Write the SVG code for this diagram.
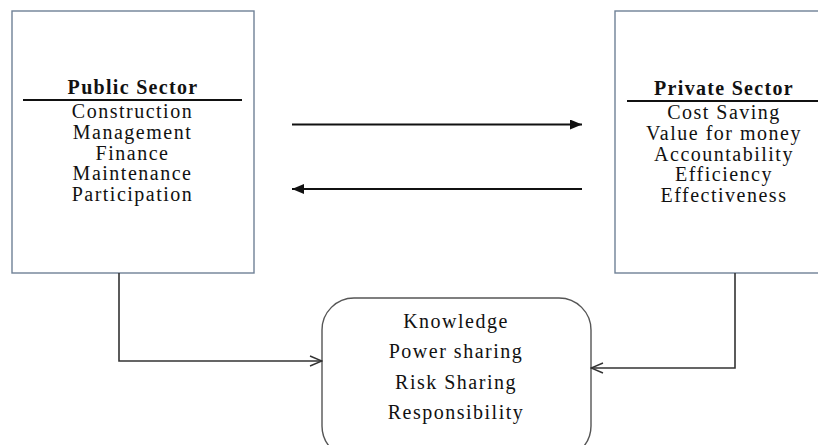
<svg xmlns="http://www.w3.org/2000/svg" width="818" height="445" viewBox="0 0 818 445">
<defs>
<style>
.box{fill:#fff;stroke:#6f8196;stroke-width:1.4}
.rbox{fill:#fff;stroke:#555;stroke-width:1.4}
.t{font-family:"Liberation Serif","Times New Roman",serif;font-size:20px;fill:#111;text-anchor:middle;letter-spacing:1.5px}
.h{font-weight:bold;letter-spacing:1.3px}
.rule{stroke:#111;stroke-width:2}
.c{fill:none;stroke:#333;stroke-width:1.6}
.a{fill:none;stroke:#111;stroke-width:2.2}
</style>
<marker id="fa" viewBox="0 0 12 10" refX="12" refY="5" markerWidth="12" markerHeight="10" markerUnits="userSpaceOnUse" orient="auto">
<path d="M0,0 L12,5 L0,10 Z" fill="#111"/>
</marker>
<marker id="oa" viewBox="0 0 14 12" refX="13" refY="6" markerWidth="14" markerHeight="12" markerUnits="userSpaceOnUse" orient="auto">
<path d="M1,1 L13,6 L1,11" fill="none" stroke="#333" stroke-width="1.4"/>
</marker>
</defs>
<rect width="818" height="445" fill="#fff"/>
<g id="public">
<rect class="box" x="12" y="11" width="242" height="262"/>
<text class="t h" x="133" y="94">Public Sector</text>
<line class="rule" x1="23" y1="100" x2="242" y2="100"/>
<text class="t" x="132.5" y="118">Construction</text>
<text class="t" x="132.5" y="139">Management</text>
<text class="t" x="132.5" y="160">Finance</text>
<text class="t" x="132.5" y="180">Maintenance</text>
<text class="t" x="132.5" y="201">Participation</text>
</g>
<g id="private">
<rect class="box" x="615" y="11" width="220" height="262"/>
<text class="t h" x="724" y="95">Private Sector</text>
<line class="rule" x1="627" y1="101" x2="818" y2="101"/>
<text class="t" x="724" y="119">Cost Saving</text>
<text class="t" x="724" y="140">Value for money</text>
<text class="t" x="724" y="161">Accountability</text>
<text class="t" x="724" y="181">Efficiency</text>
<text class="t" x="724" y="202">Effectiveness</text>
</g>
<g id="shared">
<rect class="rbox" x="322" y="298" width="269" height="160" rx="32" ry="32"/>
<text class="t" x="456" y="328">Knowledge</text>
<text class="t" x="456" y="358">Power sharing</text>
<text class="t" x="456" y="389">Risk Sharing</text>
<text class="t" x="456" y="419">Responsibility</text>
</g>
<g id="connectors">
<line class="a" x1="292" y1="124.5" x2="582" y2="124.5" marker-end="url(#fa)"/>
<line class="a" x1="582" y1="189" x2="292" y2="189" marker-end="url(#fa)"/>
<polyline class="c" points="119,273 119,361 322,361" marker-end="url(#oa)"/>
<polyline class="c" points="735,273 735,368 591,368" marker-end="url(#oa)"/>
</g>
</svg>
